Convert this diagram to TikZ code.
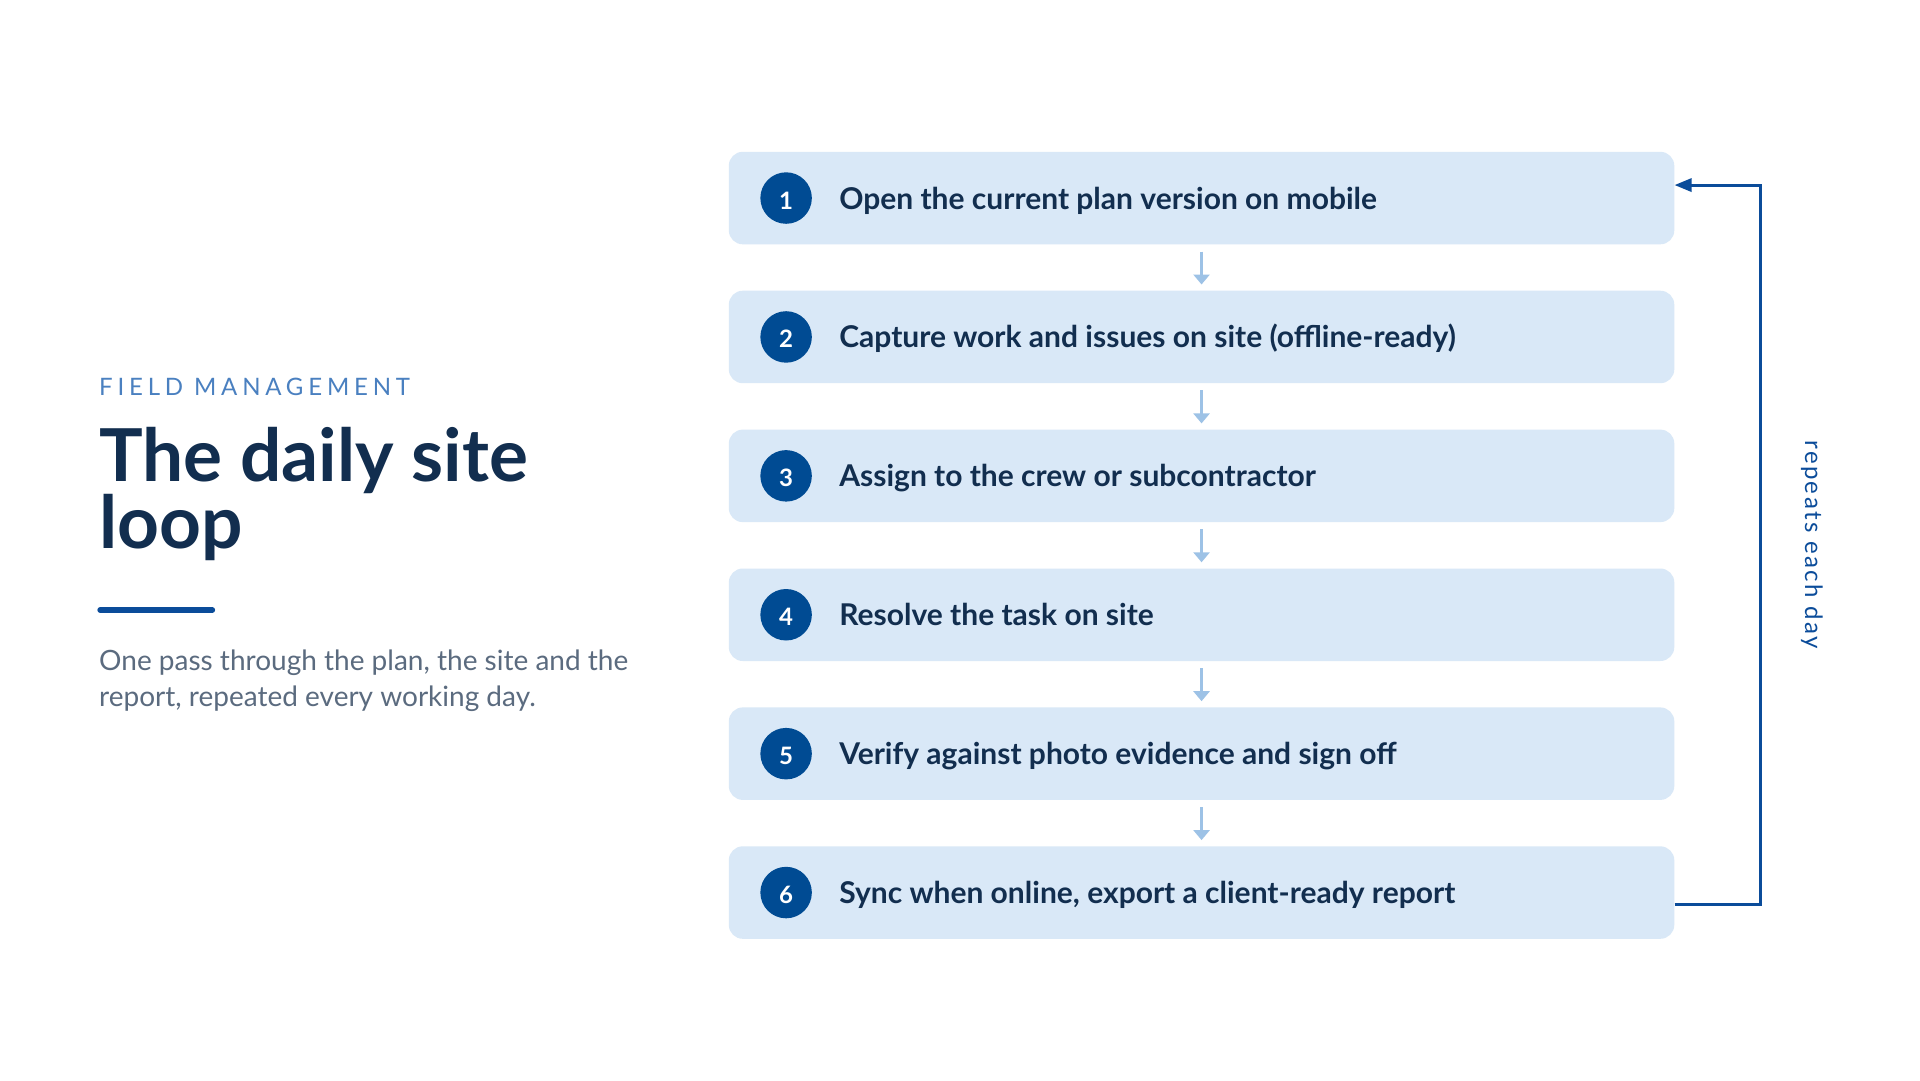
\documentclass[tikz,border=0pt]{standalone}
\usepackage{fontspec}
\setmainfont{Lato}
\newfontfamily\kickerfont[LetterSpace=20]{Lato}
\newfontfamily\repfont[LetterSpace=10]{Lato}
\usetikzlibrary{calc,arrows.meta}
\definecolor{boxfill}{HTML}{D9E8F7}
\definecolor{badgeblue}{HTML}{004B93}
\definecolor{navy}{HTML}{122E4F}
\definecolor{arrowlight}{HTML}{9DC2E6}
\definecolor{loopblue}{HTML}{0B4C9A}
\definecolor{kicker}{HTML}{4A80C0}
\definecolor{subgray}{HTML}{5B6B7F}
\begin{document}
\begin{tikzpicture}[x=1pt,y=-1pt,
  stepbox/.style={fill=boxfill, rounded corners=14pt, minimum width=945.5pt, minimum height=92.5pt, inner sep=0pt, anchor=north west},
  badge/.style={circle, fill=badgeblue, minimum size=51.5pt, inner sep=0pt, text height=17pt, text depth=0pt, text=white, font=\fontsize{24}{24}\selectfont\bfseries},
  steptext/.style={anchor=base west, inner sep=0pt, text=navy, font=\fontsize{30}{30}\selectfont\bfseries},
  flow/.style={draw=arrowlight, line width=3pt, -{Triangle[width=16pt,length=10pt]}},
  looparrow/.style={draw=loopblue, line width=3pt, -{Triangle[width=13pt,length=17pt]}},
  plaintext/.style={anchor=base west, inner sep=0pt}]
\useasboundingbox (0,0) rectangle (1920,1080);
\fill[white] (0,0) rectangle (1920,1080);
% left column
\node[plaintext, text=kicker, font=\kickerfont\fontsize{24}{24}\selectfont] (kick) at (99,395.5) {FIELD MANAGEMENT};
\node[plaintext, text=navy, font=\fontsize{73}{73}\selectfont\bfseries] (title1) at (99,481.7) {The daily site};
\node[plaintext, text=navy, font=\fontsize{73}{73}\selectfont\bfseries] (title2) at (99,548.4) {loop};
\draw[line width=5.3pt, line cap=round, draw=loopblue] (100,610) -- (212.5,610);
\node[plaintext, text=subgray, font=\fontsize{28}{28}\selectfont] (sub1) at (99,670) {One pass through the plan, the site and the};
\node[plaintext, text=subgray, font=\fontsize{28}{28}\selectfont] (sub2) at (99,706) {report, repeated every working day.};
% steps
\foreach \i/\txt in {1/Open the current plan version on mobile,
                     2/Capture work and issues on site (offline-ready),
                     3/Assign to the crew or subcontractor,
                     4/Resolve the task on site,
                     5/Verify against photo evidence and sign off,
                     6/{Sync when online, export a client-ready report}}{
  \node[stepbox] (s\i) at (728.6,{151.6+138.9*(\i-1)}) {};
  \node[badge] (b\i) at ($(s\i.west)+(57.5,0)$) {\raisebox{-2.5pt}{\i}};
  \node[steptext] (t\i) at ($(s\i.west)+(110.5,11)$) {\txt};
}
\foreach \i/\j in {1/2,2/3,3/4,4/5,5/6}{
  \draw[flow] ($(s\i.south)+(0,7)$) -- ($(s\j.north)+(0,-6)$);
}
\coordinate (loopcorner) at ($(s1.east)+(86,-13)$);
\draw[looparrow] ($(s6.east)+(0,12)$) -| (loopcorner) -- ($(s1.east)+(0,-13)$);
\node[rotate=-90, text=loopblue, font=\repfont\fontsize{24}{24}\selectfont, inner sep=0pt] (rep) at (1812,544.5) {repeats each day};
\end{tikzpicture}
\end{document}
